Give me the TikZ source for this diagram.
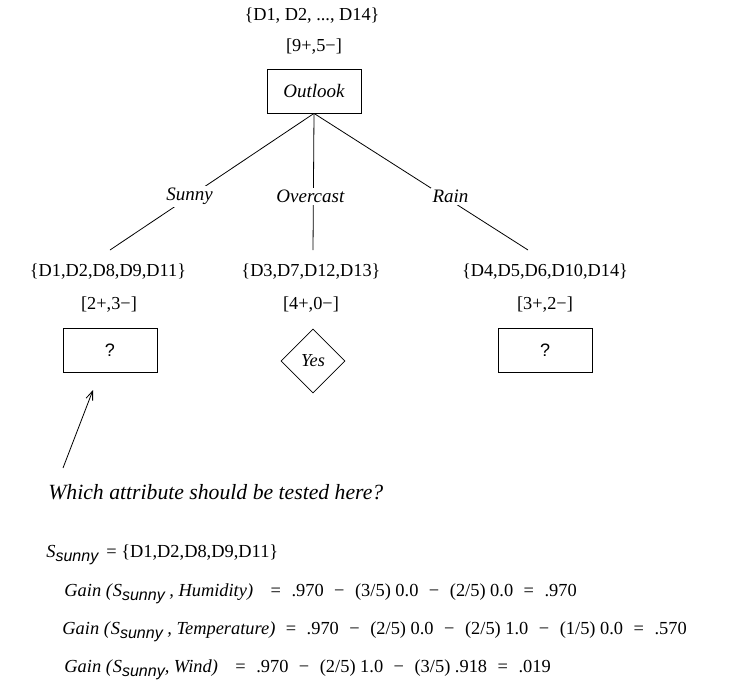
\documentclass[tikz,border=0pt]{standalone}
\usepackage{fontspec}
\setmainfont{Liberation Serif}
\newfontfamily\qmarkfont{Liberation Sans}
\usetikzlibrary{arrows.meta, positioning, shapes.geometric}

\newcommand{\ssunny}{{\itshape S\raisebox{-4.5pt}{\qmarkfont\itshape\fontsize{16}{18}\selectfont sunny}}}
\newcommand{\eqop}[1]{\hspace{10.5pt}#1\hspace{10.5pt}}

\begin{document}
\begin{tikzpicture}[
    x=1pt, y=-1pt, line width=0.8pt,
    every node/.style={font=\fontsize{18.3}{20}\selectfont},
    testbox/.style={draw, minimum width=94pt, minimum height=44pt},
    leaf/.style={draw, diamond, aspect=1, minimum size=64pt, inner sep=0pt, font=\fontsize{18.3}{20}\selectfont\itshape},
    branch/.style={fill=white, inner sep=2pt, font=\fontsize{19}{21}\selectfont\itshape},
    eqline/.style={anchor=base west, inner sep=0pt, font=\fontsize{18.4}{20}\selectfont},
    arr/.style={-{Straight Barb[length=9pt, width=7pt]}}
]
\useasboundingbox (0,0) rectangle (730,688);

% root
\node (rootset) at (312,16) {\{D1, D2, ..., D14\}};
\node (rootcnt) at (314,47) {[9+,5−]};
\node[testbox, font=\fontsize{19}{21}\selectfont\itshape] (outlook) at (314,91) {Outlook};

% children
\node (sunnyset) at (108,272) {\{D1,D2,D8,D9,D11\}};
\node (sunnycnt) at (109,305) {[2+,3−]};
\node[testbox, font=\qmarkfont\fontsize{18}{20}\selectfont] (sunnytest) at (110,350) {?};

\node (overset) at (311,272) {\{D3,D7,D12,D13\}};
\node (overcnt) at (311,305) {[4+,0−]};
\node[leaf] (yes) at (313,361) {Yes};

\node (rainset) at (545,272) {\{D4,D5,D6,D10,D14\}};
\node (raincnt) at (545,305) {[3+,2−]};
\node[testbox, font=\qmarkfont\fontsize{18}{20}\selectfont] (raintest) at (545,350) {?};

\coordinate (sunnyend) at (110,250);
\coordinate (overend) at (313,250);
\coordinate (rainend) at (528,250);

\draw (outlook.south) -- node[branch, pos=0.61] (sunnylbl) {Sunny} (sunnyend);
\draw (outlook.south) -- node[branch, pos=0.61, xshift=-3pt] (overlbl) {Overcast} (overend);
\draw (outlook.south) -- node[branch, pos=0.61, xshift=6pt] (rainlbl) {Rain} (rainend);

% question
\coordinate (qtail) at (63,468);
\coordinate (qhead) at (93,390);
\draw[arr] (qtail) -- (qhead);
\node[anchor=base west, inner sep=0pt, font=\fontsize{21.7}{24}\selectfont\itshape] (question) at (48,499) {Which attribute should be tested here?};

% gains
\node[eqline] (sset) at (46,557) {\ssunny\hspace{8pt}= \{D1,D2,D8,D9,D11\}};
\node[eqline] (humid) at (64,596) {\textit{Gain (}\ssunny\textit{ , Humidity)}\hspace{7pt}\eqop{=}.970\eqop{−}(3/5) 0.0\eqop{−}(2/5) 0.0\eqop{=}.970};
\node[eqline] (temp) at (62,634) {\textit{Gain (}\ssunny\textit{ , Temperature)}\eqop{=}.970\eqop{−}(2/5) 0.0\eqop{−}(2/5) 1.0\eqop{−}(1/5) 0.0\eqop{=}.570};
\node[eqline] (wind) at (64,672) {\textit{Gain (}\ssunny\textit{, Wind)}\hspace{7pt}\eqop{=}.970\eqop{−}(2/5) 1.0\eqop{−}(3/5) .918\eqop{=}.019};
\end{tikzpicture}
\end{document}
